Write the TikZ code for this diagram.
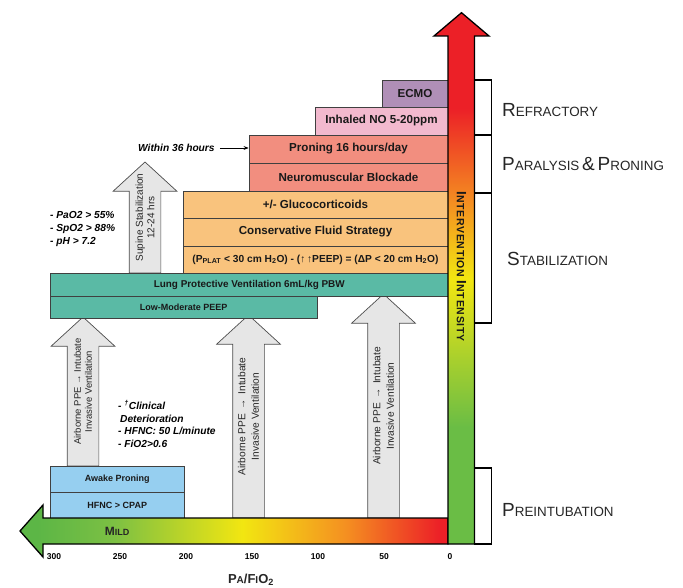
\documentclass[tikz,border=0pt]{standalone}
\usepackage{fontspec}
\setmainfont{Liberation Sans}
\newfontfamily\spacedsans[LetterSpace=7]{Liberation Sans}
\usetikzlibrary{positioning, arrows.meta, shapes.arrows, calc}
\definecolor{cEcmo}{RGB}{176,143,183}
\definecolor{cNO}{RGB}{242,185,206}
\definecolor{cSalmon}{RGB}{242,142,127}
\definecolor{cOrange}{RGB}{249,195,125}
\definecolor{cTeal}{RGB}{90,186,165}
\definecolor{cBlue}{RGB}{150,207,240}
\definecolor{cArrow}{RGB}{230,230,230}
\definecolor{ivGreen}{RGB}{106,189,69}
\definecolor{ivDark}{RGB}{92,182,70}
\definecolor{ivLime}{RGB}{124,192,67}
\definecolor{ivYellow}{RGB}{242,230,17}
\definecolor{ivOrange}{RGB}{244,144,33}
\definecolor{ivRed}{RGB}{236,32,39}
\pgfdeclarehorizontalshading{mildshade}{100bp}{color(0bp)=(ivDark); color(27bp)=(ivDark); color(36bp)=(ivLime); color(51bp)=(ivYellow); color(63bp)=(ivOrange); color(74bp)=(ivRed); color(100bp)=(ivRed)}
\pgfdeclareverticalshading{riseshade}{100bp}{color(0bp)=(ivGreen); color(36bp)=(ivGreen); color(50bp)=(ivYellow); color(57bp)=(ivOrange); color(66bp)=(ivRed); color(100bp)=(ivRed)}
\newcommand{\phasename}[2]{{\fontsize{19}{22}\selectfont #1}{\fontsize{13.4}{15}\selectfont #2}}
\newcommand{\ivname}[2]{{\fontsize{13.5}{15}\selectfont #1}{\fontsize{10.5}{12}\selectfont #2}}

\begin{document}
\begin{tikzpicture}[x=1pt, y=-1pt,
    stepbox/.style={draw=black!75, line width=0.7pt, inner sep=1pt, align=center,
      font=\fontsize{11.6}{13}\selectfont\bfseries, text=black!90},
    smallbox/.style={stepbox, font=\fontsize{9}{11}\selectfont\bfseries},
    grayarr/.style={single arrow, draw=black!70, fill=cArrow, line width=0.7pt,
      inner ysep=15.5pt, inner xsep=0pt, outer sep=0pt,
      single arrow head extend=16pt, single arrow tip angle=95,
      rotate=90, anchor=tail},
    arrtxt/.style={rotate=90, align=center, text=black!85,
      font=\fontsize{10.2}{13.5}\selectfont},
    notetxt/.style={align=left, inner sep=0pt, anchor=west,
      font=\fontsize{10.2}{12.7}\selectfont\bfseries\itshape},
    phasebox/.style={draw=black, line width=1.3pt, minimum width=17},
    phaselbl/.style={anchor=west, inner sep=0pt, text=black!85},
    ticklbl/.style={font=\fontsize{8.5}{10}\selectfont\bfseries},
    thinarr/.style={-{Stealth[length=5pt]}, line width=0.6pt}
  ]
  \useasboundingbox (0,0) rectangle (683,588);

  % gray arrows (behind everything)
  \node[grayarr, minimum height=149] (A1) at (83,466) {};
  \node[grayarr, minimum height=203] (A2) at (248.5,518) {};
  \node[grayarr, minimum height=224] (A3) at (383.5,518) {};
  \node[grayarr, minimum height=111] (A4) at (145,273) {};
  \node[arrtxt, font=\fontsize{9.5}{11}\selectfont] (T1) at ($(A1.tail)!0.5!(A1.tip)$)
    {Airborne PPE → Intubate\\Invasive Ventilation};
  \node[arrtxt] (T2) at ($(A2.tail)!0.5!(A2.tip)$)
    {Airborne PPE \,→\, Intubate\\Invasive Ventilation};
  \node[arrtxt] (T3) at ($(A3.tail)!0.5!(A3.tip)$)
    {Airborne PPE \,→\, Intubate\\Invasive Ventilation};
  \node[arrtxt, font=\fontsize{10}{11.5}\selectfont] (T4) at ($(A4.tail)!0.5!(A4.tip)$)
    {Supine Stabilization\\12-24 hrs};

  % steps
  \node[stepbox, fill=cEcmo, minimum width=66, minimum height=27] (Ecmo) at (415,93.5) {ECMO};
  \node[stepbox, fill=cNO, minimum width=133, minimum height=28] (NO) at (381.5,121) {Inhaled NO 5-20ppm};
  \node[stepbox, fill=cSalmon, minimum width=199, minimum height=28] (Pron) at (348.5,149) {Proning 16 hours/day};
  \node[stepbox, fill=cSalmon, minimum width=199, minimum height=28] (NMB) at (348.5,177) {Neuromuscular Blockade};
  \node[stepbox, fill=cOrange, minimum width=265, minimum height=27] (Gluco) at (315.5,204.5) {+/- Glucocorticoids};
  \node[stepbox, fill=cOrange, minimum width=265, minimum height=28] (Fluid) at (315.5,232) {Conservative Fluid Strategy};
  \node[stepbox, fill=cOrange, minimum width=265, minimum height=27,
    font=\fontsize{10.2}{12}\selectfont\bfseries] (Pplat) at (315.5,259.5)
    {(P\textsubscript{PLAT} < 30 cm H\textsubscript{2}O) - (↑\,↑PEEP) = (ΔP < 20 cm H\textsubscript{2}O)};
  \node[smallbox, fill=cTeal, minimum width=397.5, minimum height=23,
    font=\fontsize{9.9}{11}\selectfont\bfseries] (Lpv) at (249.25,284.5) {Lung Protective Ventilation 6mL/kg PBW};
  \node[smallbox, fill=cTeal, minimum width=266.5, minimum height=22] (Peep) at (183.75,307) {Low-Moderate PEEP};
  \node[smallbox, fill=cBlue, minimum width=133.5, minimum height=26] (Awake) at (117.25,479) {Awake Proning};
  \node[smallbox, fill=cBlue, minimum width=133.5, minimum height=26] (Hfnc) at (117.25,505) {HFNC > CPAP};

  % notes
  \node[notetxt] (W36) at (138,148) {Within 36 hours};
  \draw[thinarr] (W36.east) ++(5,0) coordinate (W36s) -- (W36s -| Pron.west);
  \node[notetxt] (Goals) at (50,229) {- PaO2 > 55\%\\- SpO2 > 88\%\\- pH > 7.2};
  \node[notetxt] (Crit) at (118,424)
    {- \textsuperscript{†}Clinical\\\hspace*{2pt}Deterioration\\- HFNC: 50 L/minute\\- FiO2>0.6};

  % phase brackets
  \node[phasebox, minimum height=55] (BRef) at (483,107.5) {};
  \node[phasebox, minimum height=58] (BPar) at (483,164) {};
  \node[phasebox, minimum height=130] (BSta) at (483,258) {};
  \node[phasebox, minimum height=76] (BPre) at (483,506) {};
  \node[phaselbl] (LRef) at (502,110.5) {\phasename{R}{EFRACTORY}};
  \node[phaselbl] (LPar) at (502,164.5) {\phasename{P}{ARALYSIS} \phasename{\&}{} \phasename{P}{RONING}};
  \node[phaselbl] (LSta) at (507,259) {\phasename{S}{TABILIZATION}};
  \node[phaselbl] (LPre) at (502,510) {\phasename{P}{REINTUBATION}};

  % severity and intensity axes
  \path[shade, shading=mildshade, draw=black, line width=1.3pt]
    (448,518) -- (43,518) -- (43,505) -- (20,531) -- (43,557) -- (43,544) -- (448,544) -- cycle;
  \path[shade, shading=riseshade, draw=black, line width=1.3pt]
    (448,544) -- (448,36) -- (434,36) -- (461.5,12.7) -- (489,36) -- (474.5,36) -- (474.5,544) -- cycle;
  \node[font=\bfseries, text=black!85] (Mild) at (117,531)
    {{\fontsize{12}{14}\selectfont M}{\fontsize{9}{10}\selectfont ILD}};
  \node[rotate=-90, font=\bfseries\spacedsans, text=black!90] (Ivl) at (461.5,266.5)
    {\ivname{I}{NTERVENTION} \ivname{I}{NTENSITY}};

  \foreach \v in {300,250,...,0}
    \node[ticklbl] (t\v) at ({450-1.32*\v},557) {\v};
  \node[font=\bfseries, text=black!85] (Axis) at (251,580)
    {{\fontsize{13}{15}\selectfont P}{\fontsize{10}{12}\selectfont A}{\fontsize{13}{15}\selectfont /F}{\fontsize{10}{12}\selectfont I}{\fontsize{13}{15}\selectfont O\textsubscript{2}}};
\end{tikzpicture}
\end{document}
